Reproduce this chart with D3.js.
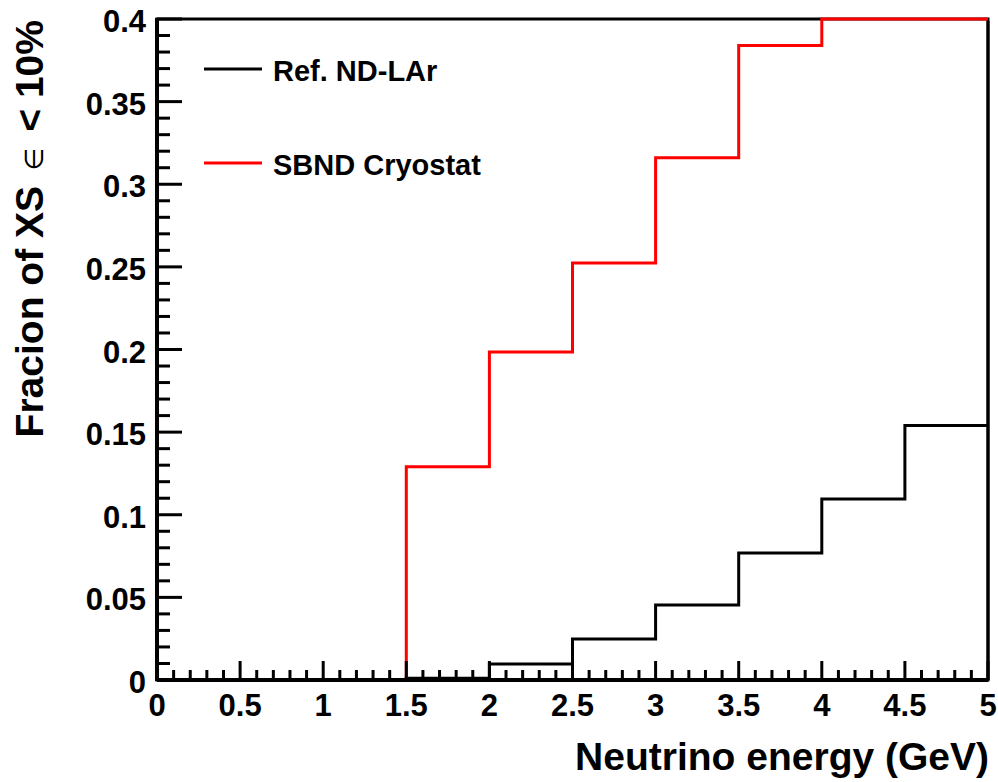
<!DOCTYPE html>
<html><head><meta charset="utf-8">
<script src="https://cdn.jsdelivr.net/npm/d3@7"></script>
<style>body{margin:0;background:#fff}svg{display:block}</style>
</head><body>
<script>
const binEdges = [0,0.5,1,1.5,2,2.5,3,3.5,4,4.5,5];
const refNDLAr = [0,0,0,0.001,0.0097,0.0248,0.0454,0.0769,0.1095,0.154];
const sbndCryostat = [0,0,0,0.129,0.1985,0.2523,0.316,0.384,0.42,0.44];
const xTicks = [0,0.5,1,1.5,2,2.5,3,3.5,4,4.5,5];
const xTickLabels = ["0","0.5","1","1.5","2","2.5","3","3.5","4","4.5","5"];
const yTicks = [0,0.05,0.1,0.15,0.2,0.25,0.3,0.35,0.4];
const yTickLabels = ["0","0.05","0.1","0.15","0.2","0.25","0.3","0.35","0.4"];
const seriesNames = ["Ref. ND-LAr","SBND Cryostat"];
const seriesColors = ["#000000","#ff0000"];

const W=998,H=782;
const m={l:157,r:10,t:19,b:102};
const svg=d3.select("body").append("svg").attr("width",W).attr("height",H);
const x=d3.scaleLinear().domain([0,5]).range([m.l,W-m.r]);
const y=d3.scaleLinear().domain([0,0.4]).range([H-m.b,m.t]).clamp(true);
const font="'Liberation Sans', Arial, Helvetica, sans-serif";

// frame
svg.append("rect").attr("x",x(0)).attr("y",y(0.4)).attr("width",x(5)-x(0)).attr("height",y(0)-y(0.4))
  .attr("fill","none").attr("stroke","#000").attr("stroke-width",3);

function stepPath(vals){
  const pts=[];
  vals.forEach((v,i)=>{pts.push([binEdges[i],v]);pts.push([binEdges[i+1],v]);});
  return d3.line().x(d=>x(d[0])).y(d=>y(d[1]))(pts);
}
[refNDLAr,sbndCryostat].forEach((vals,k)=>{
  svg.append("path").attr("d",stepPath(vals)).attr("fill","none")
    .attr("stroke",seriesColors[k]).attr("stroke-width",3);
});
// right frame edge on top
svg.append("line").attr("x1",x(5)).attr("x2",x(5)).attr("y1",y(0.4)+2).attr("y2",y(0)).attr("stroke","#000").attr("stroke-width",3);

// axes with ROOT-style ticks
const xMinor=d3.range(0,5.0001,0.1);
const yMinor=d3.range(0,0.40001,0.01);
const g=svg.append("g").attr("stroke","#000");
xMinor.forEach(v=>{
  const major=Math.abs(v*2-Math.round(v*2))<1e-6;
  g.append("line").attr("x1",x(v)).attr("x2",x(v)).attr("y1",y(0)).attr("y2",y(0)-(major?19:10)).attr("stroke-width",3);
});
yMinor.forEach(v=>{
  const major=Math.abs(v*20-Math.round(v*20))<1e-6;
  g.append("line").attr("y1",y(v)).attr("y2",y(v)).attr("x1",x(0)).attr("x2",x(0)+(major?25:13)).attr("stroke-width",3);
});
// axis lines
svg.append("line").attr("x1",x(0)).attr("x2",x(5)).attr("y1",y(0)).attr("y2",y(0)).attr("stroke","#000").attr("stroke-width",4);
svg.append("line").attr("x1",x(0)).attr("x2",x(0)).attr("y1",y(0)+1).attr("y2",y(0.4)-1).attr("stroke","#000").attr("stroke-width",4);

svg.selectAll(".xl").data(xTicks).enter().append("text")
  .attr("x",d=>x(d)).attr("y",716).attr("text-anchor","middle")
  .attr("font-family",font).attr("font-weight","bold").attr("font-size",31)
  .text((d,i)=>xTickLabels[i]);
svg.selectAll(".yl").data(yTicks).enter().append("text")
  .attr("x",146).attr("y",d=>y(d)+13).attr("text-anchor","end")
  .attr("font-family",font).attr("font-weight","bold").attr("font-size",31)
  .text((d,i)=>yTickLabels[i]);

svg.append("text").attr("x",989).attr("y",770).attr("text-anchor","end")
  .attr("font-family",font).attr("font-weight","bold").attr("font-size",39)
  .text("Neutrino energy (GeV)");

const yt=svg.append("text").attr("transform",`translate(43,20) rotate(-90)`).attr("text-anchor","end")
  .attr("font-family",font).attr("font-weight","bold").attr("font-size",39);
yt.append("tspan").text("Fracion of XS ");
yt.append("tspan").attr("dx",5).attr("font-weight","normal").attr("font-family","'DejaVu Sans', sans-serif").attr("font-size",26).text("∈");
yt.append("tspan").attr("dx",5).text(" < 10%");

// legend
const legY=[69,163];
seriesNames.forEach((n,i)=>{
  svg.append("line").attr("x1",204).attr("x2",262).attr("y1",legY[i]).attr("y2",legY[i])
    .attr("stroke",seriesColors[i]).attr("stroke-width",3);
  svg.append("text").attr("x",273).attr("y",legY[i]+12)
    .attr("font-family",font).attr("font-weight","bold").attr("font-size",29).text(n);
});
</script>
</body></html>
